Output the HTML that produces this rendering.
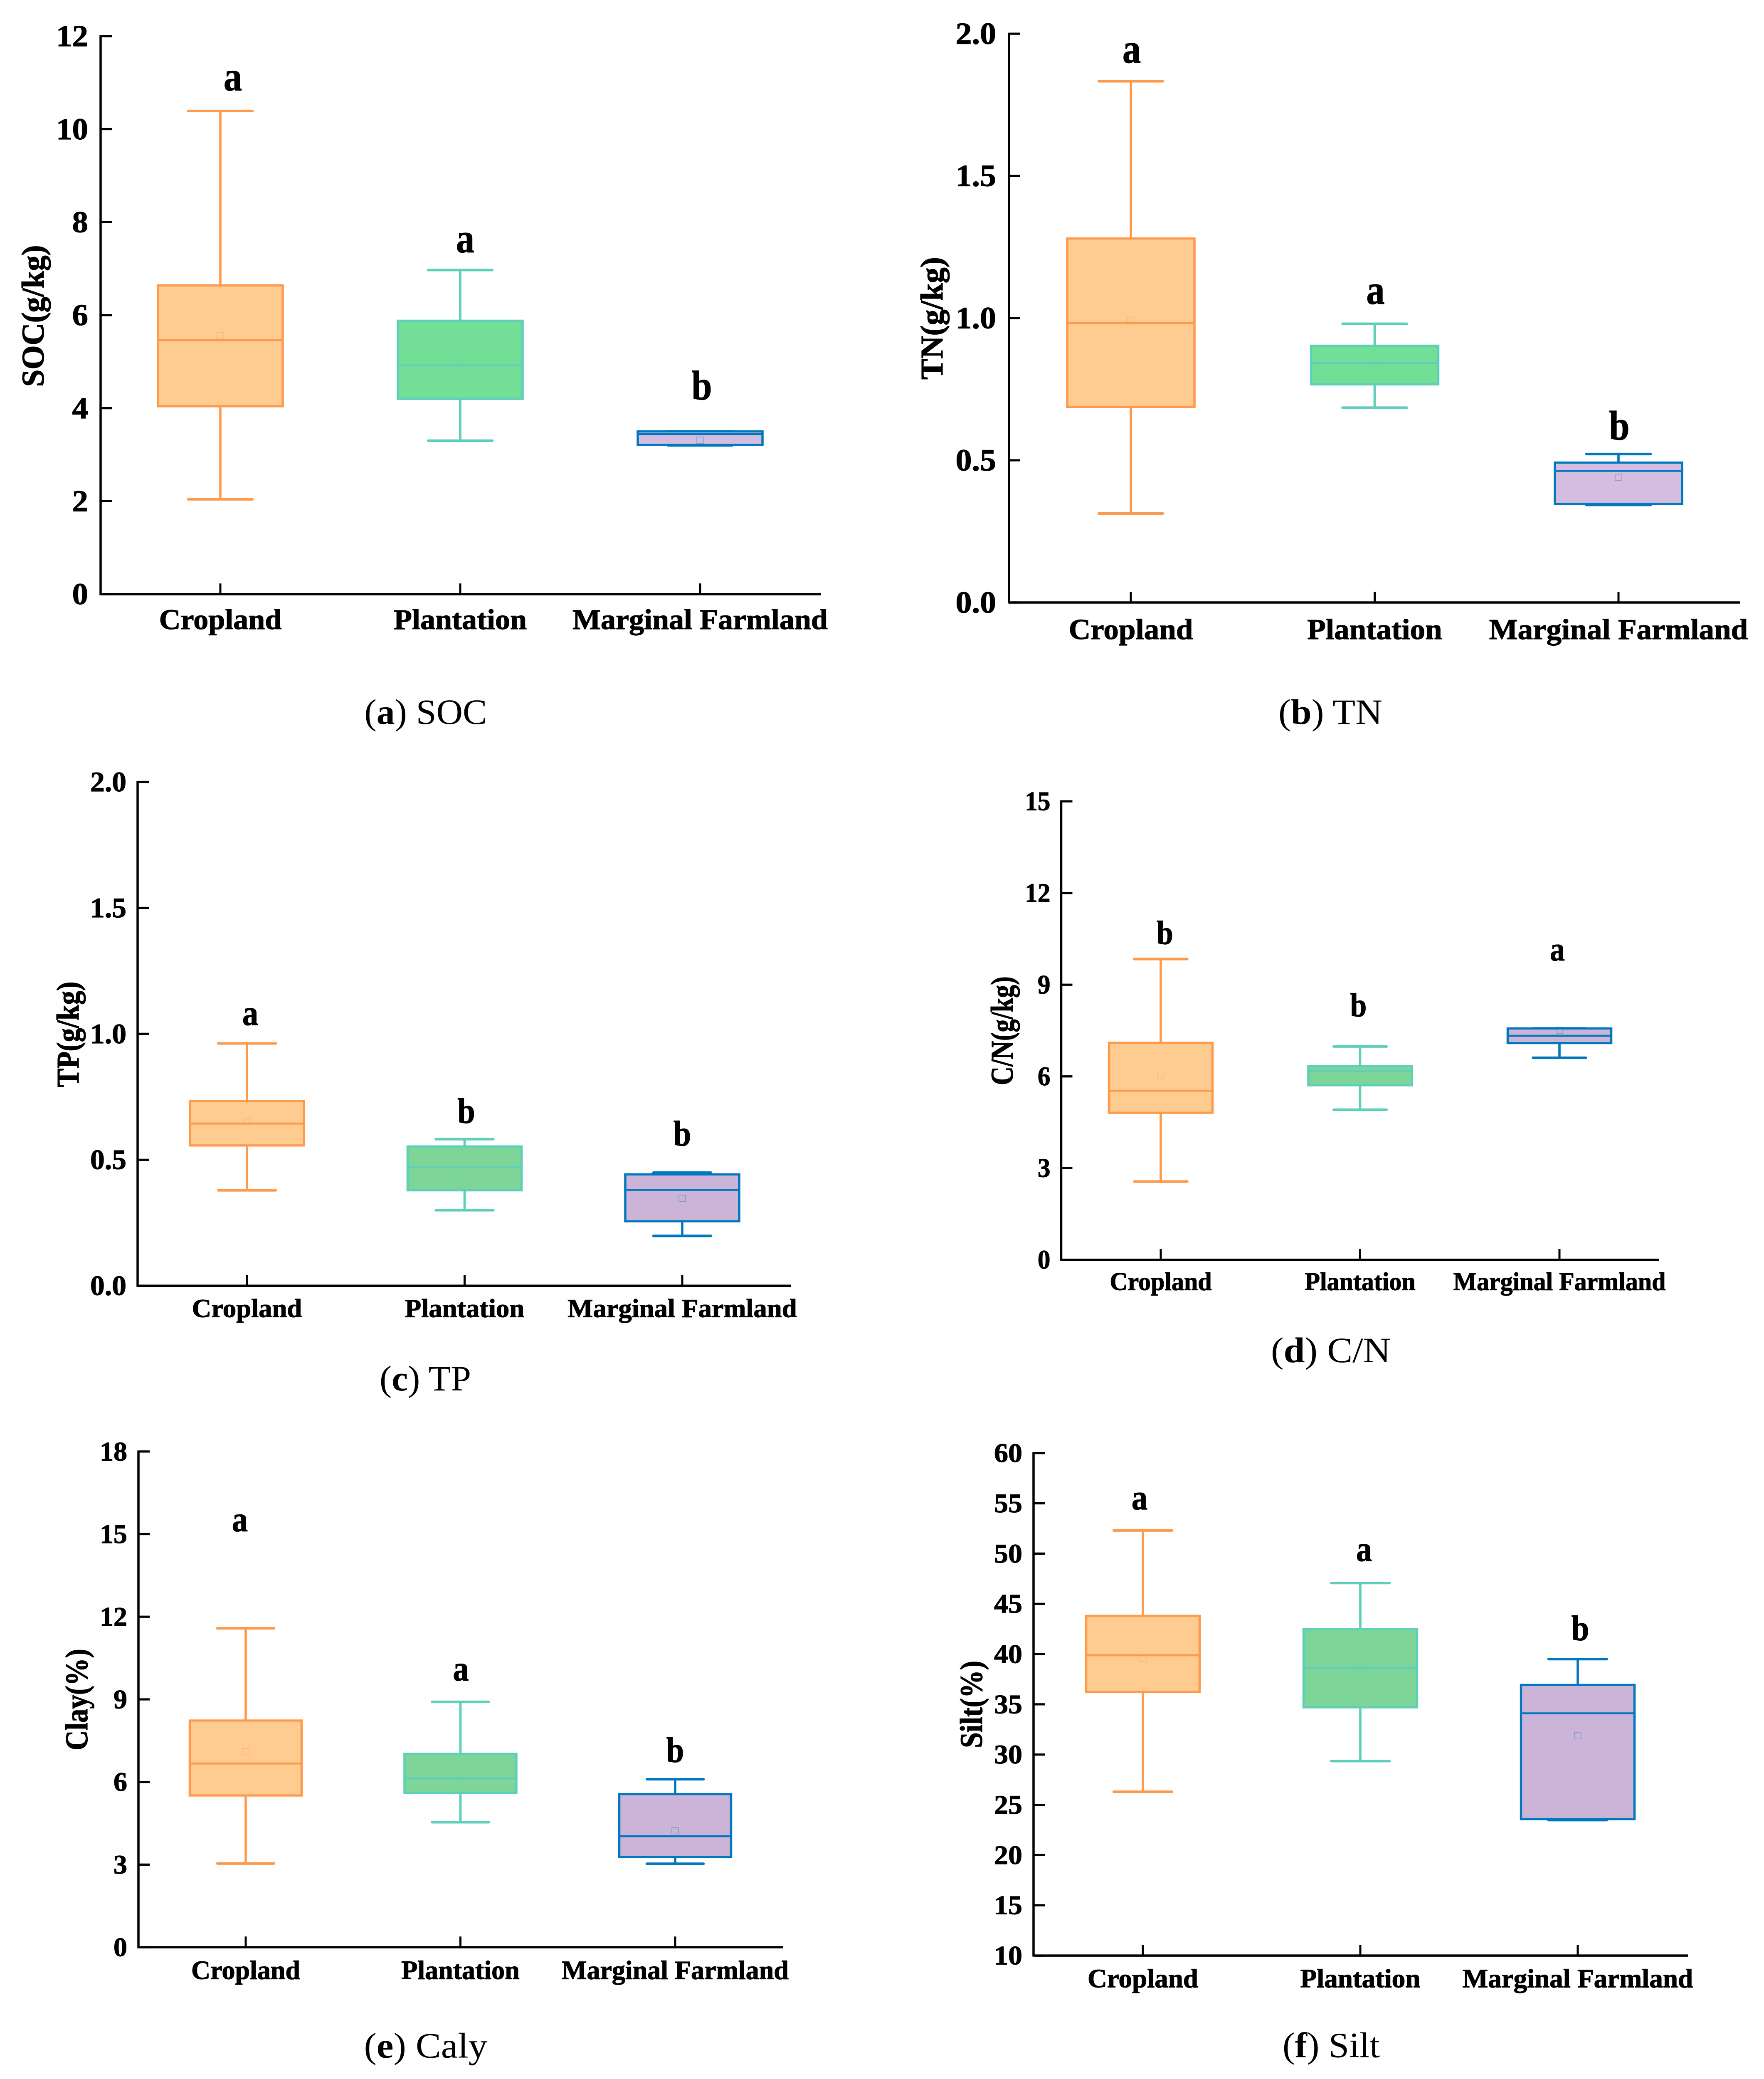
<!DOCTYPE html>
<html lang="en">
<head>
<meta charset="utf-8">
<title>Soil properties by land use</title>
<style>
html,body{margin:0;padding:0;background:#fff;width:100%;height:100%;overflow:hidden;}
svg{display:block;position:absolute;left:0;top:0;width:100vw;height:100vh;}
text{font-family:"Liberation Serif",serif;fill:#000;}
text[font-weight="bold"]{stroke:#000;stroke-width:1.2px;}
</style>
</head>
<body>
<svg id="figure" xmlns="http://www.w3.org/2000/svg" viewBox="0 0 4243 5238" preserveAspectRatio="none">
  <rect x="0" y="0" width="4243" height="5238" fill="#ffffff"/>
  <rect x="90" y="1900" width="1900" height="1440" fill="#fefefe"/>
  <rect x="108" y="3605" width="1826" height="1430" fill="#fefefe"/>
  <text x="1024" y="1824" font-size="90" text-anchor="middle" textLength="295" lengthAdjust="spacingAndGlyphs">(<tspan font-weight="bold">a</tspan>) SOC</text>
  <text x="3200" y="1824" font-size="90" text-anchor="middle" textLength="250" lengthAdjust="spacingAndGlyphs">(<tspan font-weight="bold">b</tspan>) TN</text>
  <text x="1023" y="3503" font-size="90" text-anchor="middle" textLength="220" lengthAdjust="spacingAndGlyphs">(<tspan font-weight="bold">c</tspan>) TP</text>
  <text x="3201" y="3432" font-size="90" text-anchor="middle" textLength="288" lengthAdjust="spacingAndGlyphs">(<tspan font-weight="bold">d</tspan>) C/N</text>
  <text x="1024" y="5184" font-size="90" text-anchor="middle" textLength="297" lengthAdjust="spacingAndGlyphs">(<tspan font-weight="bold">e</tspan>) Caly</text>
  <text x="3202" y="5183" font-size="90" text-anchor="middle" textLength="234" lengthAdjust="spacingAndGlyphs">(<tspan font-weight="bold">f</tspan>) Silt</text>
</svg>
<script>
const categories = ["Cropland", "Plantation", "Marginal Farmland"];

const socTicks = [0, 2, 4, 6, 8, 10, 12];
const socLow = [2.04, 3.30, 3.20];
const socQ1 = [4.04, 4.20, 3.21];
const socMedian = [5.46, 4.92, 3.44];
const socQ3 = [6.64, 5.88, 3.50];
const socHigh = [10.39, 6.97, 3.50];
const socMean = [5.56, 5.04, 3.31];
const socLetters = ["a", "a", "b"];
const socLetterLevels = [10.83, 7.35, 4.19];

const tnTicks = [0, 0.5, 1, 1.5, 2];
const tnLow = [0.313, 0.685, 0.343];
const tnQ1 = [0.688, 0.767, 0.347];
const tnMedian = [0.982, 0.842, 0.463];
const tnQ3 = [1.28, 0.903, 0.492];
const tnHigh = [1.833, 0.98, 0.522];
const tnMean = [0.99, 0.84, 0.44];
const tnLetters = ["a", "a", "b"];
const tnLetterLevels = [1.898, 1.05, 0.573];

const tpTicks = [0, 0.5, 1, 1.5, 2];
const tpLow = [0.379, 0.30, 0.198];
const tpQ1 = [0.557, 0.379, 0.256];
const tpMedian = [0.644, 0.47, 0.381];
const tpQ3 = [0.733, 0.553, 0.442];
const tpHigh = [0.962, 0.582, 0.449];
const tpMean = [0.651, 0.47, 0.347];
const tpLetters = ["a", "b", "b"];
const tpLetterLevels = [1.035, 0.647, 0.557];

const cnTicks = [0, 3, 6, 9, 12, 15];
const cnLow = [2.56, 4.91, 6.61];
const cnQ1 = [4.81, 5.71, 7.09];
const cnMedian = [5.53, 6.18, 7.33];
const cnQ3 = [7.10, 6.33, 7.57];
const cnHigh = [9.84, 6.98, 7.57];
const cnMean = [6.04, 6.10, 7.51];
const cnLetters = ["b", "b", "a"];
const cnLetterLevels = [10.33, 7.96, 9.79];

const clayTicks = [0, 3, 6, 9, 12, 15, 18];
const clayLow = [3.04, 4.54, 3.03];
const clayQ1 = [5.51, 5.60, 3.28];
const clayMedian = [6.67, 6.13, 4.03];
const clayQ3 = [8.23, 7.02, 5.56];
const clayHigh = [11.58, 8.91, 6.10];
const clayMean = [7.10, 6.20, 4.23];
const clayLetters = ["a", "a", "b"];
const clayLetterLevels = [15.11, 9.69, 6.73];

const siltTicks = [10, 15, 20, 25, 30, 35, 40, 45, 50, 55, 60];
const siltLow = [26.3, 29.35, 23.48];
const siltQ1 = [36.24, 34.7, 23.57];
const siltMedian = [39.88, 38.64, 34.1];
const siltQ3 = [43.8, 42.49, 36.93];
const siltHigh = [52.3, 47.07, 39.5];
const siltMean = [39.58, 38.6, 31.87];
const siltLetters = ["a", "a", "b"];
const siltLetterLevels = [54.4, 49.26, 41.38];

const SVG_NS = "http://www.w3.org/2000/svg";
const figure = document.getElementById("figure");
const slug = function (s) { return s.toLowerCase().replace(/\s+/g, "-"); };

function make(parent, tag, attrs) {
  const el = document.createElementNS(SVG_NS, tag);
  for (const k in attrs) el.setAttribute(k, attrs[k]);
  parent.appendChild(el);
  return el;
}

function scaledText(parent, str, x, y, size, sx, anchor, weight) {
  const el = make(parent, "text", {
    transform: "translate(" + x + "," + y + ") scale(" + sx + ",1)",
    "font-size": size,
    "font-weight": weight,
    "text-anchor": anchor
  });
  el.textContent = str;
  return el;
}

function drawPanel(p) {
  const yOf = function (v) { return p.bottom - (v - p.yMin) / (p.yMax - p.yMin) * (p.bottom - p.top); };
  const xOf = function (i) { return p.catStart + i * p.catStep; };
  const strokes = ["#fd9a4c", "#5ecfb9", "#0078bd"];
  const fills = ["#fecb91", p.greenFill, p.purpleFill];

  const g = make(figure, "g", {});
  
  

  const yAxis = make(g, "line", { x1: p.left, x2: p.left, y1: p.top - 2.5, y2: p.bottom + 2.5, stroke: "#000", "stroke-width": 5.5 });
  
  

  const xAxis = make(g, "line", { x1: p.left, x2: p.right, y1: p.bottom, y2: p.bottom, stroke: "#000", "stroke-width": 5.8 });
  
  

  p.ticks.forEach(function (t) {
    const tick = make(g, "line", { x1: p.left, x2: p.left + 27, y1: yOf(t), y2: yOf(t), stroke: "#000", "stroke-width": 5.5 });
    
    
    const label = scaledText(g, t.toFixed(p.decimals), p.left - p.tickGap, yOf(t) + p.tickFont * 0.33, p.tickFont, p.tickSx, "end", "bold");
    
    
  });

  const title = make(g, "text", {
    transform: "translate(" + p.titleX + "," + p.titleY + ") rotate(-90)",
    "font-size": 76,
    "font-weight": "bold",
    "text-anchor": "middle",
    textLength: p.titleLen,
    lengthAdjust: "spacingAndGlyphs"
  });
  title.textContent = p.title;
  
  

  categories.forEach(function (cat, i) {
    const cx = xOf(i);
    const tick = make(g, "line", { x1: cx, x2: cx, y1: p.bottom, y2: p.bottom - 27, stroke: "#000", "stroke-width": 5 });
    
    

    const label = scaledText(g, cat, cx, p.bottom + p.catGap, p.catFont, p.catSx, "middle", "bold");
    
    

    const box = make(g, "g", {});
    
    

    const whisker = make(box, "line", { x1: cx, x2: cx, y1: yOf(p.high[i]), y2: yOf(p.low[i]), stroke: strokes[i], "stroke-width": 5.6 });
    
    

    const capHigh = make(box, "line", { x1: cx - p.capHalf, x2: cx + p.capHalf, y1: yOf(p.high[i]), y2: yOf(p.high[i]), stroke: strokes[i], "stroke-width": 6.5, "stroke-linecap": "round" });
    
    

    const capLow = make(box, "line", { x1: cx - p.capHalf, x2: cx + p.capHalf, y1: yOf(p.low[i]), y2: yOf(p.low[i]), stroke: strokes[i], "stroke-width": 6.5, "stroke-linecap": "round" });
    
    

    const rect = make(box, "rect", { x: cx - p.boxHalf, y: yOf(p.q3[i]), width: p.boxHalf * 2, height: yOf(p.q1[i]) - yOf(p.q3[i]), fill: fills[i], stroke: strokes[i], "stroke-width": 5.5 });
    
    

    const median = make(box, "line", { x1: cx - p.boxHalf, x2: cx + p.boxHalf, y1: yOf(p.median[i]), y2: yOf(p.median[i]), stroke: strokes[i], "stroke-width": 5 });
    
    

    const mean = make(box, "rect", { x: cx - 8, y: yOf(p.mean[i]) - 8, width: 16, height: 16, fill: "none", stroke: strokes[i], "stroke-opacity": 0.4, "stroke-width": 1.5 });
    
    

    const letter = scaledText(g, p.letters[i], cx + p.letterShift[i], yOf(p.letterLevels[i]), p.letterFont, p.letterSx, "middle", "bold");
    
    
  });
}

[
  { id: "soc", title: "SOC(g/kg)", ticks: socTicks, decimals: 0, yMin: 0, yMax: 12, low: socLow, q1: socQ1, median: socMedian, q3: socQ3, high: socHigh, mean: socMean, letters: socLetters, letterLevels: socLetterLevels, letterShift: [30, 12, 4],
    left: 242, right: 1975, top: 91, bottom: 1497, catStart: 530, catStep: 577, boxHalf: 150, capHalf: 77, greenFill: "#73de95", purpleFill: "#d4bde0",
    tickFont: 77, tickSx: 1, tickGap: 30, catFont: 72, catSx: 1, catGap: 88, letterFont: 104, letterSx: 0.85, titleX: 105, titleY: 796, titleLen: 357 },
  { id: "tn", title: "TN(g/kg)", ticks: tnTicks, decimals: 1, yMin: 0, yMax: 2, low: tnLow, q1: tnQ1, median: tnMedian, q3: tnQ3, high: tnHigh, mean: tnMean, letters: tnLetters, letterLevels: tnLetterLevels, letterShift: [2, 2, 2],
    left: 2427, right: 4186, top: 85, bottom: 1518, catStart: 2720, catStep: 586.5, boxHalf: 153, capHalf: 77, greenFill: "#73de95", purpleFill: "#d4bde0",
    tickFont: 78, tickSx: 1, tickGap: 31, catFont: 73, catSx: 1, catGap: 92, letterFont: 104, letterSx: 0.85, titleX: 2267, titleY: 802, titleLen: 309 },
  { id: "tp", title: "TP(g/kg)", ticks: tpTicks, decimals: 1, yMin: 0, yMax: 2, low: tpLow, q1: tpQ1, median: tpMedian, q3: tpQ3, high: tpHigh, mean: tpMean, letters: tpLetters, letterLevels: tpLetterLevels, letterShift: [8, 4, 0],
    left: 331, right: 1903, top: 1970, bottom: 3239.5, catStart: 594, catStep: 523.5, boxHalf: 137, capHalf: 69, greenFill: "#7dd598", purpleFill: "#ccb4d8",
    tickFont: 71, tickSx: 0.98, tickGap: 27, catFont: 66, catSx: 0.98, catGap: 79, letterFont: 90, letterSx: 0.85, titleX: 189, titleY: 2606, titleLen: 266 },
  { id: "cn", title: "C/N(g/kg)", ticks: cnTicks, decimals: 0, yMin: 0, yMax: 15, low: cnLow, q1: cnQ1, median: cnMedian, q3: cnQ3, high: cnHigh, mean: cnMean, letters: cnLetters, letterLevels: cnLetterLevels, letterShift: [10, -4, -5],
    left: 2552.5, right: 3990, top: 2019, bottom: 3174, catStart: 2792, catStep: 479.5, boxHalf: 124.5, capHalf: 63.5, greenFill: "#7dd598", purpleFill: "#ccb4d8",
    tickFont: 68, tickSx: 0.9, tickGap: 26, catFont: 64, catSx: 0.936, catGap: 76, letterFont: 84, letterSx: 0.85, titleX: 2436, titleY: 2597, titleLen: 274 },
  { id: "clay", title: "Clay(%)", ticks: clayTicks, decimals: 0, yMin: 0, yMax: 18, low: clayLow, q1: clayQ1, median: clayMedian, q3: clayQ3, high: clayHigh, mean: clayMean, letters: clayLetters, letterLevels: clayLetterLevels, letterShift: [-14, 1, 0],
    left: 333, right: 1884, top: 3657, bottom: 4906, catStart: 591, catStep: 516.5, boxHalf: 134.5, capHalf: 68, greenFill: "#7dd598", purpleFill: "#ccb4d8",
    tickFont: 68, tickSx: 0.97, tickGap: 27, catFont: 66, catSx: 0.97, catGap: 80, letterFont: 90, letterSx: 0.85, titleX: 210, titleY: 4282, titleLen: 256 },
  { id: "silt", title: "Silt(%)", ticks: siltTicks, decimals: 0, yMin: 10, yMax: 60, low: siltLow, q1: siltQ1, median: siltMedian, q3: siltQ3, high: siltHigh, mean: siltMean, letters: siltLetters, letterLevels: siltLetterLevels, letterShift: [-8, 9, 6],
    left: 2486, right: 4060, top: 3661, bottom: 4927, catStart: 2749, catStep: 523, boxHalf: 136.5, capHalf: 70, greenFill: "#7dd598", purpleFill: "#ccb4d8",
    tickFont: 68, tickSx: 1, tickGap: 27, catFont: 66, catSx: 0.985, catGap: 80, letterFont: 90, letterSx: 0.85, titleX: 2362, titleY: 4294, titleLen: 220 }
].forEach(drawPanel);
</script>
</body>
</html>
